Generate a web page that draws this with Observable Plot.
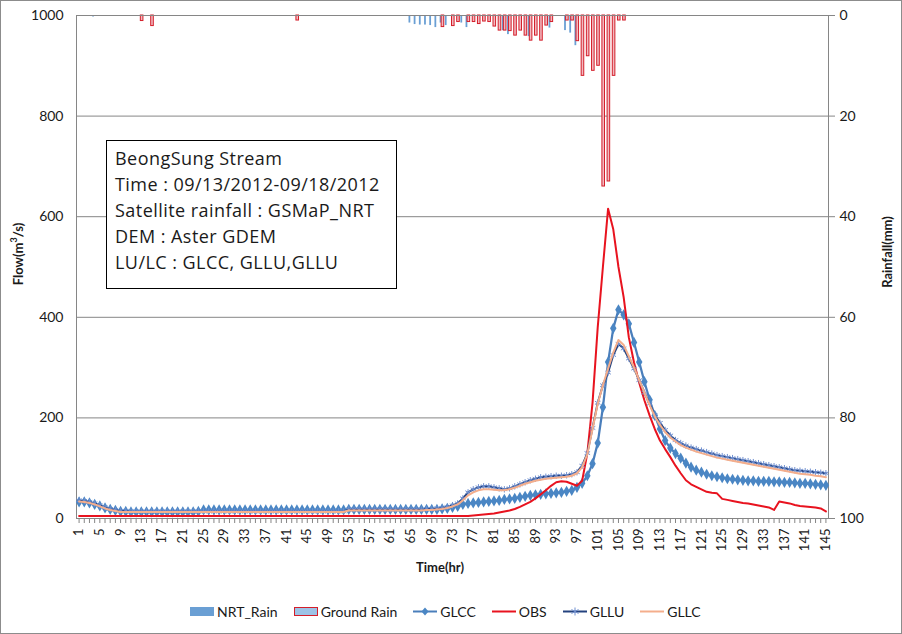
<!DOCTYPE html>
<html>
<head>
<meta charset="utf-8">
<script src="https://cdn.jsdelivr.net/npm/d3@7"></script>
<script src="https://cdn.jsdelivr.net/npm/@observablehq/plot@0.6"></script>
<style>
  body { margin: 0; background: #fff; }
  #chart { position: relative; width: 902px; height: 634px; background: #fff; overflow: hidden;
           font-family: Lato, "Open Sans", "DejaVu Sans", sans-serif; color: #1a1a1a; }
  #chart > svg { position: absolute; left: 0; top: 0; }
  .border { position: absolute; left: 0; top: 0; right: 0; bottom: 0; border: 1px solid #8c8c8c; pointer-events: none; }
  .title { position: absolute; font-weight: bold; font-size: 13px; white-space: nowrap; }
  .rot { transform: translate(-50%, -50%) rotate(-90deg); }
  .note { position: absolute; left: 106px; top: 140px; width: 291px; height: 149px; box-sizing: border-box;
          border: 1px solid #000; background: #fff; padding: 4px 0 0 8px; font-size: 18px; line-height: 26px;
          letter-spacing: 0.45px; font-family: "Open Sans", Lato, sans-serif; white-space: nowrap; }
  .legend { position: absolute; top: 603px; left: 190px; display: flex; align-items: center; font-size: 14px; white-space: nowrap; }
  .legend .item { display: flex; align-items: center; margin-right: 16px; }
  .legend svg { margin-right: 3px; }
</style>
</head>
<body>
<div id="chart"></div>
<script>
// ---------------- data ----------------
const hours = Array.from({length: 145}, (_, i) => i + 1);
const hourLabels = hours.filter(h => (h - 1) % 4 === 0);
const flowTicks = [0, 200, 400, 600, 800, 1000];
const rainTicks = [0, 20, 40, 60, 80, 100];

const glcc = [
  33,33,31,28,25,21,18,16,14,14,
  13,13,13,13,13,13,13,13,13,13,
  13,13,13,14,17,17,17,17,17,17,
  17,17,17,17,17,17,17,17,17,17,
  17,17,17,17,17,17,17,17,17,17,
  17,17,18,18,18,18,18,18,18,18,
  18,18,18,18,18,18,18,18,18,18,
  19,20,22,24,28,30,31,32,33,34,
  35,36,38,39,40,42,44,46,47,48,
  49,50,51,52,54,56,62,70,85,109,
  150,221,311,378,415,405,387,350,311,272,
  236,205,178,155,140,129,120,110,102,96,
  92,88,85,83,81,79,78,77,76,75,
  75,74,74,74,73,73,72,72,71,70,
  70,69,68,67,66
];
const obs = [
  5,5,5,5,5,5,5,5,5,5,
  5,5,5,5,5,5,5,5,5,5,
  5,5,5,5,5,5,5,5,5,5,
  5,5,5,5,5,5,5,5,5,5,
  5,5,5,5,5,5,5,5,5,5,
  5,5,5,5,5,5,5,5,5,5,
  5,5,5,5,5,5,5,5,5,5,
  5,5,5,5,5,5,6,7,8,9,
  10,12,14,16,19,23,28,33,40,48,
  56,65,72,74,73,69,65,75,130,230,
  380,500,616,575,500,440,360,310,270,235,
  205,178,155,138,122,105,90,76,68,63,
  58,53,51,50,39,37,35,33,31,30,
  28,26,24,22,17,34,32,30,27,25,
  24,23,22,20,14
];
const gllu = [
  36,35,33,30,26,22,19,17,15,15,
  14,14,14,14,14,14,14,14,14,14,
  14,14,14,14,14,14,14,14,14,14,
  14,14,14,14,14,14,14,14,14,14,
  14,14,14,14,14,14,14,14,14,14,
  14,14,18,18,18,18,18,18,18,18,
  18,18,18,18,18,18,18,19,19,20,
  21,23,26,30,40,52,58,62,64,64,
  62,60,58,60,64,68,72,76,79,82,
  83,84,85,85,86,88,92,105,130,180,
  230,265,290,325,347,338,318,298,275,250,
  228,205,190,176,165,156,150,145,141,138,
  135,132,129,126,124,122,120,118,116,114,
  112,110,108,106,104,102,100,98,96,95,
  94,93,92,91,90
];
const gllc = [
  34,33,31,28,24,20,17,15,13,13,
  13,13,13,13,13,13,13,13,13,13,
  13,13,13,13,13,13,13,13,13,13,
  13,13,13,13,13,13,13,13,13,13,
  13,13,13,13,13,13,13,13,13,13,
  13,13,16,16,16,16,16,16,16,16,
  16,16,16,16,16,16,16,17,17,18,
  19,21,24,28,36,46,52,56,58,58,
  57,56,56,58,61,65,69,72,75,77,
  79,80,81,82,83,85,90,102,128,178,
  228,265,298,330,355,345,322,300,275,250,
  226,203,186,172,161,153,146,141,137,133,
  130,127,124,121,119,117,115,113,111,109,
  107,105,103,101,99,97,95,93,91,89,
  88,87,85,84,82
];

const nrtHours = [4, 39, 40, 41, 42, 44, 45, 65, 66, 67, 68, 69, 70, 71, 72, 75, 76, 83, 84, 88, 92, 95, 96, 97];
const nrtRain  = [0.3, 0.2, 0.2, 0.2, 0.2, 0.2, 0.2, 1.5, 1.8, 1.9, 1.9, 2.0, 2.4, 1.5, 2.0, 1.5, 2.4, 3.0, 3.8, 4.2, 2.5, 3.0, 3.5, 6.0];
const groundHours = [13, 15, 43, 71, 73, 74, 76, 77, 78, 79, 80, 81, 82, 83, 84, 85, 86, 87, 88, 89, 90, 91, 92, 95, 96, 97, 98, 99, 100, 101, 102, 103, 104, 105, 106];
const groundRain  = [1.1, 2.1, 1.0, 2.3, 2.1, 1.3, 1.3, 1.3, 1.7, 1.2, 1.3, 2.2, 3.0, 3.0, 3.1, 4.0, 3.0, 4.0, 5.0, 4.0, 5.0, 2.0, 1.3, 1.0, 1.0, 5.1, 12, 8.1, 11, 10, 34, 33, 12, 1.0, 1.0];

const colors = {GLCC: "#4A7EBB", GLCCmark: "#4A86C4", OBS: "#E8131F", GLLU: "#24427E", GLLUmark: "#6F8FD0", GLLC: "#F4AE8C",
                NRT: "#6A9FD4", groundFill: "#F1B9C0", groundStroke: "#D41E2A", legendGroundFill: "#9DC3E6", grid: "#868686"};

// ---------------- tables ----------------
const flowRows = hours.map((h, i) => ({hour: h, GLCC: glcc[i], OBS: obs[i], GLLU: gllu[i], GLLC: gllc[i]}));
const nrtData = nrtHours.map((h, i) => ({hour: h, value: nrtRain[i]}));
const groundData = groundHours.map((h, i) => ({hour: h, value: groundRain[i]}));

const W = 902, H = 634;
const FONT = 'Lato, "Open Sans", "DejaVu Sans", sans-serif';
const frame = {width: W, height: H, marginLeft: 76, marginRight: 74, marginTop: 15, marginBottom: 116};

// rainfall layer (right axis, reversed)
const rainPlot = Plot.plot({
  ...frame,
  style: {background: "transparent", fontFamily: FONT, fontSize: "14px", color: "#1a1a1a"},
  x: {type: "band", domain: hours, padding: 0, round: false, axis: null},
  y: {domain: [0, 100], reverse: true, axis: null},
  marks: [
    Plot.ruleY(rainTicks.slice(1, -1), {stroke: colors.grid, strokeWidth: 1}),
    Plot.barY(nrtData, {x: "hour", y: "value", fill: colors.NRT, insetLeft: 0.6, insetRight: 2.8}),
    Plot.barY(groundData, {x: "hour", y: "value", fill: colors.groundFill, stroke: colors.groundStroke, strokeWidth: 1, insetLeft: 2.1, insetRight: 0.5}),
    Plot.axisY(rainTicks, {anchor: "right", tickSize: 6, tickPadding: 5, stroke: colors.grid, fill: "#1a1a1a", fontSize: 14, label: null})
  ]
});

// flow layer (left axis)
const flowPlot = Plot.plot({
  ...frame,
  style: {background: "transparent", fontFamily: FONT, fontSize: "14px", color: "#1a1a1a"},
  x: {type: "band", domain: hours, padding: 0, round: false, axis: null, label: null},
  y: {domain: [0, 1000], axis: null, label: null},
  marks: [
    Plot.frame({stroke: colors.grid}),
    Plot.axisY(flowTicks, {anchor: "left", tickSize: 0, tickPadding: 13, fontSize: 14, tickFormat: d3.format("d"), label: null}),
    Plot.axisX(hours, {anchor: "bottom", tickSize: 5, tickFormat: () => "", stroke: colors.grid, label: null}),
    Plot.axisX(hourLabels, {anchor: "bottom", tickSize: 0, tickPadding: 10, tickRotate: -90, fontSize: 13, label: null}),
    Plot.line(flowRows, {x: "hour", y: "GLCC", stroke: colors.GLCC, strokeWidth: 2.25}),
    Plot.dot(flowRows, {x: "hour", y: "GLCC", symbol: "diamond", r: 3.4, fill: colors.GLCCmark, stroke: "none"}),
    Plot.line(flowRows, {x: "hour", y: "OBS", stroke: colors.OBS, strokeWidth: 2}),
    Plot.line(flowRows, {x: "hour", y: "GLLU", stroke: colors.GLLU, strokeWidth: 2}),
    Plot.dot(flowRows, {x: "hour", y: "GLLU", symbol: "asterisk", r: 3, stroke: colors.GLLUmark, strokeWidth: 1}),
    Plot.line(flowRows, {x: "hour", y: "GLLC", stroke: colors.GLLC, strokeWidth: 2})
  ]
});

const chart = document.getElementById("chart");
chart.append(rainPlot, flowPlot);

// titles
function addDiv(cls, html, styles) {
  const d = document.createElement("div");
  d.className = cls; d.innerHTML = html;
  Object.assign(d.style, styles);
  chart.append(d);
  return d;
}
addDiv("title", "Time(hr)", {left: "440px", top: "567px", transform: "translate(-50%, -50%)"});
addDiv("title rot", "Flow(m<sup style='font-size:9px'>3</sup>/s)", {left: "17px", top: "254px"});
addDiv("title rot", "Rainfall(mm)", {left: "887px", top: "252px"});

// annotation box
addDiv("note", ["BeongSung Stream", "Time : 09/13/2012-09/18/2012", "Satellite rainfall : GSMaP_NRT",
                "DEM : Aster GDEM", "LU/LC : GLCC, GLLU,GLLU"].map(t => `<div>${t}</div>`).join(""), {});

// legend
const legendItems = [
  {name: "NRT_Rain", sw: `<rect x="0" y="3" width="24" height="9" fill="${colors.NRT}"/>`},
  {name: "Ground Rain", sw: `<rect x="0.5" y="3.5" width="23" height="8" fill="${colors.legendGroundFill}" stroke="${colors.groundStroke}"/>`},
  {name: "GLCC", sw: `<line x1="0" x2="24" y1="7.5" y2="7.5" stroke="${colors.GLCC}" stroke-width="2"/><path d="M12,3.5L15.5,7.5L12,11.5L8.5,7.5Z" fill="${colors.GLCCmark}"/>`},
  {name: "OBS", sw: `<line x1="0" x2="24" y1="7.5" y2="7.5" stroke="${colors.OBS}" stroke-width="2"/>`},
  {name: "GLLU", sw: `<line x1="0" x2="24" y1="7.5" y2="7.5" stroke="${colors.GLLU}" stroke-width="2"/><path d="M12,3.5V11.5M8.5,5.5L15.5,9.5M8.5,9.5L15.5,5.5" stroke="${colors.GLLUmark}" stroke-width="1"/>`},
  {name: "GLLC", sw: `<line x1="0" x2="24" y1="7.5" y2="7.5" stroke="${colors.GLLC}" stroke-width="2"/>`}
];
addDiv("legend", legendItems.map(it =>
  `<div class="item"><svg width="24" height="15">${it.sw}</svg><span>${it.name}</span></div>`).join(""), {});

addDiv("border", "", {});
</script>
</body>
</html>
